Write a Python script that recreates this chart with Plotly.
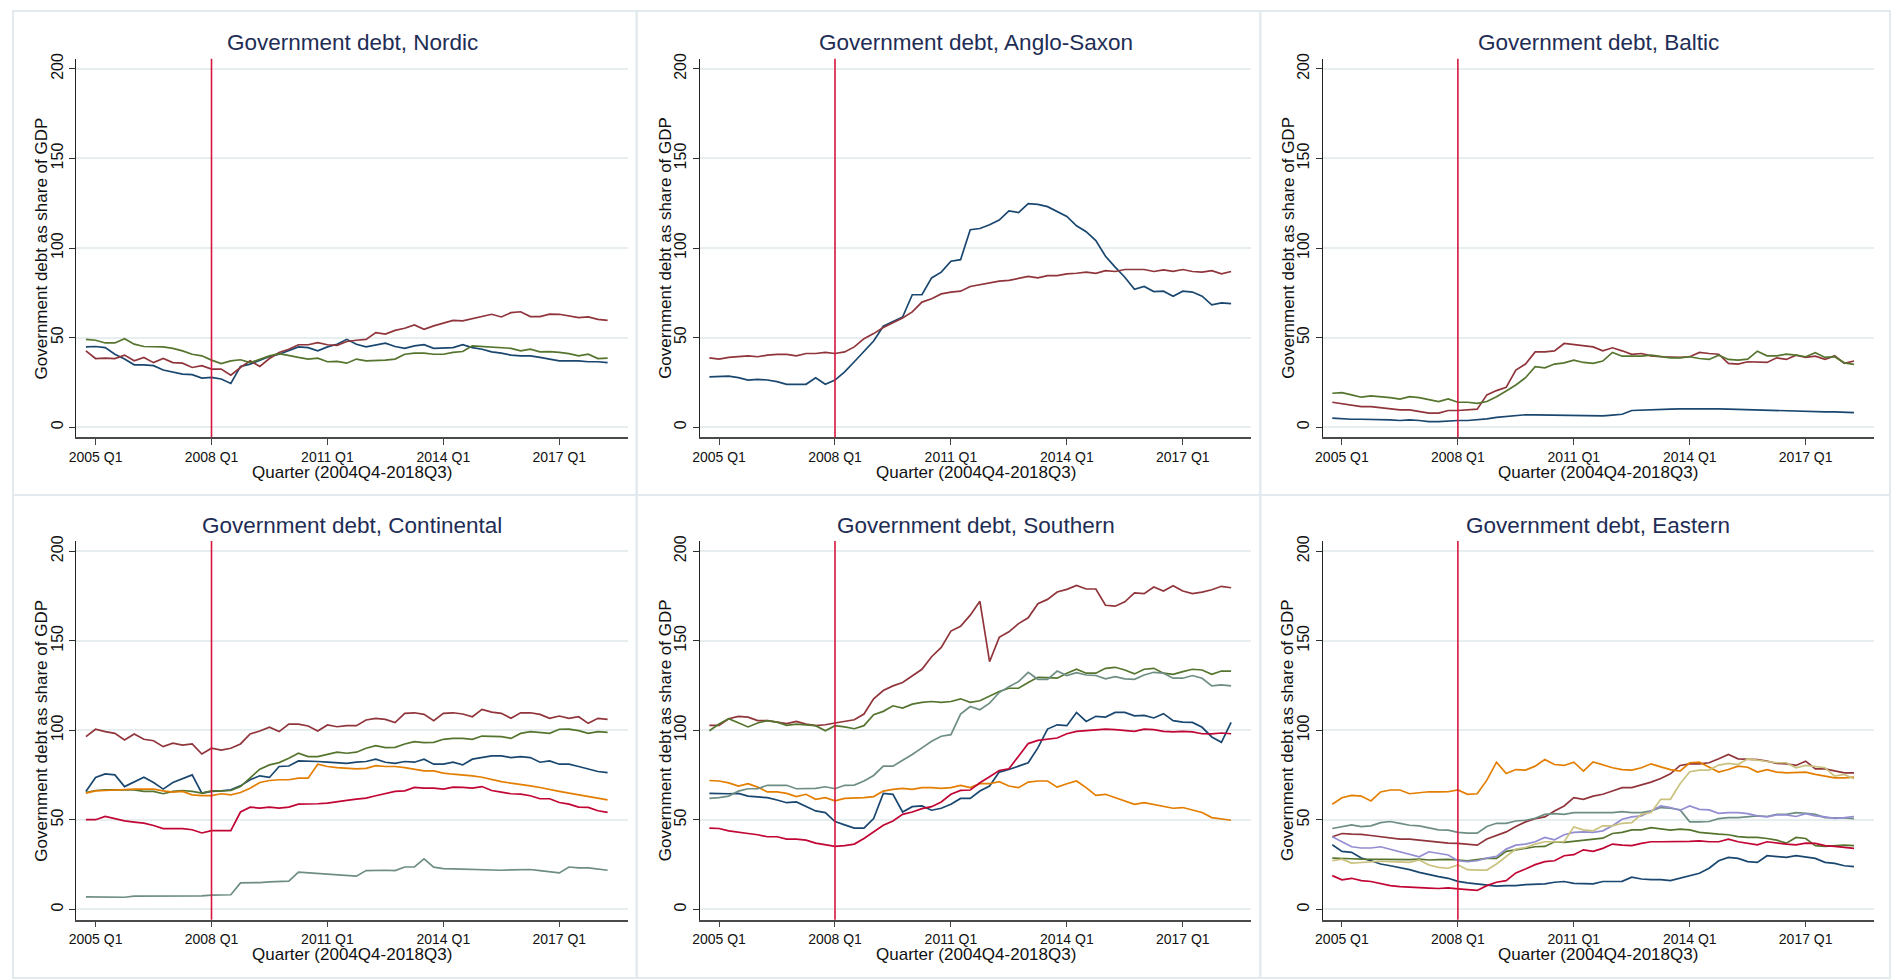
import plotly.graph_objects as go

# ---------------------------------------------------------------------------
# Quarterly government debt (% of GDP), 2004Q4 .. 2018Q2
# x positions are quarter offsets from 2005Q1 (2004Q4 = -1)
# ---------------------------------------------------------------------------
QUARTERS = list(range(-1, 54))
TICK_QUARTERS = [0, 12, 24, 36, 48]
TICK_LABELS = ["2005 Q1", "2008 Q1", "2011 Q1", "2014 Q1", "2017 Q1"]
CRISIS_QUARTER = 12          # 2008 Q1
Y_TICKS = [0, 50, 100, 150, 200]

NAVY = "#1a476f"
MAROON = "#90353b"
GREEN = "#55752f"
ORANGE = "#e37e00"
TEAL = "#6e8e84"
CRANBERRY = "#c10534"
LAVENDER = "#938dd2"
KHAKI = "#cac27e"

# --- Nordic ---------------------------------------------------------------
nordic_navy = [44.8, 45, 44.4, 40.7, 38, 34.8, 34.8, 34.3, 31.9, 30.6,
               29.6, 29.3, 27.4, 27.8, 26.9, 24.4, 33.9, 35.2, 37.4, 39.4,
               40.7, 42.6, 44.8, 44.4, 42.6, 44.8, 46.3, 49, 46.3, 44.8,
               46, 46.9, 45, 44, 45.4, 46, 44, 44.4, 44.4, 46,
               44.4, 43.5, 42, 41.3, 40.2, 39.8, 39.8, 38.9, 38, 37,
               37, 37, 36.5, 36.5, 36]
nordic_maroon = [42.6, 38.3, 38.5, 38.3, 40.2, 37, 38.9, 36, 38.3, 36,
                 35.7, 33.3, 34.3, 32.4, 32.4, 29, 33.3, 37, 33.9, 38.3,
                 41.7, 43.5, 46, 46, 47.2, 46, 45.7, 47.8, 48.5, 49,
                 52.8, 51.9, 54, 55.2, 57, 54.6, 56.5, 58, 59.6, 59.3,
                 60.6, 61.7, 63, 61.5, 63.9, 64.4, 61.7, 61.7, 63.1, 63,
                 62, 61.1, 61.5, 60.2, 59.6]
nordic_green = [49, 48.5, 47, 47, 49.4, 46.3, 45, 44.8, 44.8, 44,
                42.6, 40.7, 39.8, 37.4, 35.5, 37, 37.6, 36, 38, 39.8,
                41, 39.8, 38.9, 38, 38.5, 36.5, 36.7, 35.7, 38, 37,
                37, 37.4, 38, 40.7, 41.3, 41.3, 40.7, 40.7, 41.7, 42.2,
                45.4, 45, 45, 44.4, 44, 42.6, 43.5, 42, 42.2, 41.7,
                41, 39.8, 40.7, 38.3, 38.5]

# --- Anglo-Saxon ----------------------------------------------------------
anglo_navy = [28.1, 28.1, 28.5, 27.6, 26.3, 26.7, 26.3, 25.4, 23.9, 23.9,
              23.9, 27.6, 23.9, 26.3, 30.9, 36.5, 42, 48.1, 56.3, 58.7,
              61.5, 73.9, 73.9, 83.3, 86.5, 92.6, 93.5, 110.2, 110.9, 113,
              115.6, 120.7, 119.8, 124.8, 124.4, 123.1, 120.4, 117.6, 112.4, 109.1,
              104.1, 95.4, 89.3, 83.7, 76.9, 78.5, 75.7, 75.9, 73.1, 75.9,
              75.4, 73.1, 68.3, 69.4, 68.9]
anglo_maroon = [38.7, 38, 38.9, 39.3, 39.8, 39.3, 40.2, 40.6, 40.6, 39.8,
                41.1, 41.1, 41.7, 41.1, 42, 44.8, 49.4, 52.2, 55.6, 58.3,
                60.9, 64.3, 69.8, 71.7, 74.4, 75.4, 75.9, 78.5, 79.4, 80.6,
                81.5, 81.9, 82.8, 84.1, 83.3, 84.6, 84.6, 85.6, 85.9, 86.5,
                85.9, 87.4, 86.9, 88, 88, 88, 86.9, 87.8, 87, 88,
                86.9, 86.5, 87.4, 85.6, 86.9]

# --- Baltic ---------------------------------------------------------------
baltic_navy = [5, 4.6, 4.4, 4.4, 4.4, 4.1, 4.1, 3.7, 4.1, 3.7,
               3.1, 3.1, 3.5, 3.7, 3.7, 4.1, 4.6, 5.4, 5.9, 6.7,
               6.9, 6.9, 6.8, 6.7, 6.6, 6.5, 6.4, 6.2, 6.3, 6.7,
               7.2, 9.3, 9.6, 9.8, 10, 10.1, 10.2, 10.3, 10.3, 10.2,
               10.2, 10.1, 9.9, 9.8, 9.7, 9.6, 9.4, 9.2, 9.1, 8.9,
               8.6, 8.5, 8.5, 8.3, 8.1]
baltic_maroon = [13.9, 13, 12, 11.5, 11.5, 10.9, 10, 9.6, 9.6, 8.7,
                 7.8, 7.8, 9.3, 9.3, 9.6, 10, 18, 20.4, 22.2, 31.9,
                 35.2, 42, 42, 42.6, 46.7, 46.1, 45.7, 44.8, 42.6, 44.3,
                 42.6, 40.6, 41.1, 39.8, 39.3, 38.9, 38.9, 39.3, 41.7, 41.1,
                 40.7, 35.6, 35.2, 36.5, 36.5, 36.1, 38.7, 37.8, 40.2, 38.9,
                 39.6, 37.8, 39.8, 35.6, 36.9]
baltic_green = [18.9, 19.3, 18, 16.7, 17.4, 17, 16.5, 15.6, 17, 16.5,
                15.6, 14.3, 15.7, 13.9, 13.9, 13.3, 14.3, 17, 20.2, 23.5,
                27.6, 33.7, 33.1, 35.2, 35.9, 37.4, 36.1, 35.6, 36.9, 41.7,
                39.6, 39.6, 39.6, 40.2, 39.3, 38.7, 38.7, 39.3, 38.3, 37.8,
                40.2, 37.8, 37.4, 38, 42.4, 39.8, 39.8, 40.7, 40.2, 39.3,
                41.5, 38.9, 39.3, 35.9, 35]

# --- Continental ----------------------------------------------------------
cont_navy = [65.9, 73.7, 75.7, 75.1, 68.6, 71.1, 73.8, 70.9, 67.2, 70.9,
             72.9, 75.1, 64.9, 65.9, 66.2, 66.8, 69, 72.4, 74.6, 73.7,
             79.8, 80.1, 82.9, 82.9, 82.6, 82.2, 82, 81.6, 82.2, 82.6,
             83.9, 82.2, 81.6, 82.6, 82.2, 83.9, 81.1, 81.1, 82.2, 80.7,
             83.9, 84.8, 85.7, 85.7, 84.8, 85.3, 84.8, 82.2, 82.9, 81.1,
             81.1, 79.8, 78.3, 77, 76.4]
cont_maroon = [96.5, 100.6, 99.3, 98.3, 94.6, 98, 95, 94.2, 90.9, 92.8,
               91.8, 92.4, 86.8, 90, 89, 90, 92.4, 98, 99.6, 101.7,
               99.3, 103.5, 103.5, 102.4, 99.6, 103, 102, 102.6, 102.6, 105.8,
               106.7, 106.1, 104.3, 109.5, 109.8, 108.9, 105.4, 109.5, 109.8, 109.1,
               107.6, 111.7, 110.2, 109.5, 106.7, 109.8, 109.8, 108.9, 106.7, 108,
               106.7, 107.6, 103.9, 106.7, 106.1]
cont_green = [65.3, 66.4, 66.8, 66.8, 66.4, 66.8, 65.9, 65.9, 64.6, 65.9,
              66.4, 65.9, 64.9, 66.2, 66.2, 66.4, 68.6, 73.3, 78.3, 80.7,
              82, 84.4, 87.2, 85.3, 85.3, 86.6, 87.8, 87.2, 87.8, 90,
              91.5, 90.4, 90.5, 92.4, 93.7, 93.1, 93.3, 95, 95.5, 95.5,
              95, 96.8, 96.8, 96.5, 95.5, 98.3, 99.3, 98.9, 98.3, 100.6,
              100.7, 99.8, 98.3, 99.3, 98.9]
cont_orange = [64.9, 66.2, 66.4, 66.8, 67.2, 67.2, 67.2, 67.2, 66.2, 65.5,
               65.9, 64, 63.6, 63.6, 64.6, 64, 65.3, 67.7, 70.9, 72,
               72.4, 72.4, 73.3, 73.3, 81.1, 79.8, 79.2, 78.8, 78.5, 78.8,
               80.3, 79.8, 79.8, 79.2, 78.5, 77.4, 77.4, 76.1, 75.5, 75.1,
               74.6, 73.8, 72.4, 71.4, 70.5, 69.9, 69, 68.1, 67.2, 65.9,
               64.9, 64, 63.1, 62.2, 61.2]
cont_teal = [7, 6.9, 6.8, 6.7, 6.8, 7.4, 7.4, 7.4, 7.4, 7.4,
             7.4, 7.4, 7.6, 8, 8.2, 8.2, 14.8, 14.8, 15, 15.4,
             15.4, 15.8, 20.8, 20.4, 19.9, 19.5, 19.5, 19.1, 18.6, 21.7,
             21.9, 21.9, 21.7, 23.7, 23.7, 28.2, 23.6, 22.8, 22.6, 22.4,
             22.4, 22.3, 21.9, 21.9, 22.1, 22.1, 22.3, 21.7, 21, 20.4,
             23.7, 23.2, 23.2, 22.6, 21.9]
cont_cranberry = [50.1, 50.1, 51.9, 50.5, 49.5, 48.8, 48.2, 46.9, 45.1, 45.1,
                  45.1, 44.5, 42.7, 44, 44, 44, 54.4, 57.1, 56.6, 57.1,
                  56.6, 57.1, 58.8, 58.8, 59, 59.4, 60.3, 60.9, 61.6, 62.2,
                  63.5, 64.6, 65.9, 66.2, 68.1, 67.7, 67.7, 67.2, 68.3, 68.1,
                  67.7, 68.6, 66.4, 65.5, 64.6, 64.4, 63.5, 61.8, 61.8, 59.7,
                  58.8, 57.1, 57, 55.1, 54.2]

# --- Southern -------------------------------------------------------------
south_navy = [64.8, 64.6, 64.6, 64.8, 63.3, 62.8, 62.4, 61.1, 59.6, 60,
              57.4, 55, 54.1, 49.1, 47.2, 45.4, 45.4, 50.7, 64.8, 64.3,
              54.4, 57.4, 57.8, 55.4, 56.5, 58.7, 62, 62, 66.1, 68.9,
              76.7, 78.1, 80, 81.9, 90.2, 100.7, 103.1, 102.6, 110, 105,
              107.8, 107.4, 110, 110, 108.1, 108.3, 106.9, 109.3, 105.4, 104.6,
              104.4, 101.7, 96.3, 93.3, 104.4]
south_maroon = [102.8, 102.8, 106.5, 107.8, 107.4, 105.4, 105.4, 104.6, 103.7, 105,
                103.5, 102.6, 103.1, 104.1, 104.8, 105.9, 109.1, 117.6, 122.2, 124.8,
                126.7, 130.4, 134.1, 141.1, 146.3, 155.4, 158.1, 164.3, 172, 138.3,
                151.9, 155, 159.6, 162.8, 170.7, 173.1, 177.2, 178.7, 180.9, 178.9,
                178.9, 169.8, 169.3, 171.7, 176.7, 176.3, 180, 177.8, 180.7, 177.8,
                176.3, 177.2, 178.5, 180.4, 179.6]
south_green = [99.8, 103.5, 106.5, 104.4, 101.9, 104.1, 105.4, 104.6, 102.8, 103.5,
               103.1, 102.6, 99.8, 102.6, 101.9, 100.9, 102.6, 108.7, 110.6, 113.7,
               112.4, 114.6, 115.6, 116.1, 115.6, 116.1, 117.6, 115.6, 116.5, 119.3,
               121.7, 123.5, 123.5, 126.7, 129.6, 129.4, 129.1, 131.9, 134.1, 131.9,
               131.9, 134.6, 135.2, 133.7, 131.5, 134.1, 134.6, 131.9, 131.3, 132.8,
               134.1, 133.7, 131.3, 133.1, 133.1]
south_orange = [72, 71.7, 70.7, 68.9, 70.2, 68.3, 65.6, 65.6, 64.8, 63,
                64.3, 61.5, 62.4, 60.6, 62, 62, 62.4, 63, 66.1, 67,
                67.6, 67, 68, 68, 67.6, 68, 69.3, 68, 70.2, 70.2,
                71.3, 68.9, 68, 71.1, 71.7, 71.7, 68.3, 70.2, 71.7, 68,
                63.7, 64.3, 62.4, 60.9, 58.7, 59.6, 58.7, 57.8, 56.5, 56.9,
                55.6, 54.1, 51.3, 50.7, 49.8]
south_teal = [62, 62.4, 63.3, 66.1, 67.4, 67.4, 69.3, 69.3, 69.3, 67.4,
              67.4, 67.6, 68.5, 67.4, 69.3, 69.4, 71.7, 74.8, 80, 80,
              83.3, 86.5, 90.2, 93.9, 96.7, 97.6, 109.1, 113.3, 111.5, 115.2,
              121.1, 124.4, 127.2, 132.4, 128.5, 128.5, 133.1, 130.6, 132.2, 130.9,
              130.6, 128.7, 130, 128.7, 128.5, 130.9, 132.4, 131.9, 129.1, 129.1,
              130.6, 129.1, 124.8, 125.4, 124.8]
south_cranberry = [45.4, 45.2, 43.9, 43, 42.4, 41.7, 40.6, 40.6, 39.3, 39.3,
                   38.7, 37, 35.9, 35.2, 35.6, 36.5, 39.6, 43.3, 47, 49.4,
                   53.1, 54.4, 56.3, 57.4, 60, 64.3, 66.5, 66.7, 70.7, 74.1,
                   77.6, 78.5, 85.9, 92.6, 94.4, 95.2, 95.7, 98.1, 99.4, 99.8,
                   100.4, 100.7, 100.4, 100, 99.4, 100.7, 100.4, 99.4, 99.1, 99.4,
                   99.1, 98.1, 98, 98.5, 98.1]

# --- Eastern --------------------------------------------------------------
east_navy = [36.1, 32.4, 31.9, 28.7, 27.2, 25.4, 24.4, 23.5, 22.2, 20.7,
             19.3, 18.3, 17.4, 15.7, 14.8, 14.3, 13.7, 13, 13.3, 13.3,
             13.9, 14.1, 14.3, 15.2, 15.6, 14.6, 14.6, 14.3, 15.6, 15.6,
             15.7, 18, 17, 16.7, 16.7, 16.1, 17.6, 18.9, 20.2, 23,
             27.2, 29.1, 28.5, 26.7, 26.3, 30, 29.6, 29.1, 30, 29.1,
             28.5, 26.3, 25.7, 24.4, 23.9]
east_maroon = [40.6, 42.4, 42, 41.9, 41.3, 40.6, 40.2, 39.3, 39.3, 38.7,
               37.8, 37.4, 37, 36.9, 36.5, 35.9, 39.3, 41.5, 43.3, 46.3,
               48.9, 50.7, 51.7, 55, 57.8, 62.4, 61.5, 63.3, 64.3, 66.1,
               68, 68, 69.4, 71.1, 73.1, 75.7, 80.4, 81.3, 81.3, 81.9,
               84.1, 86.5, 84.1, 84.1, 83.7, 82.8, 81.5, 81.3, 80.4, 82.8,
               78.5, 78.5, 77.6, 76.3, 76.3]
east_green = [28.7, 28.7, 28.3, 28.1, 28, 28.2, 28.1, 28, 27.8, 28.1,
              27.6, 27.8, 28, 27.6, 27.2, 27.8, 28.5, 28.5, 32.4, 33.3,
              34.3, 35, 35.2, 37.8, 37.4, 38, 38.3, 39.3, 39.8, 42.4,
              43, 44.4, 44.4, 45.7, 45.2, 44.3, 44.8, 44.4, 43, 42.4,
              42, 41.7, 40.7, 40.2, 40.2, 39.6, 38.7, 37, 40.2, 39.6,
              35.6, 35.2, 35.6, 35.9, 35.6]
east_orange = [58.7, 62.4, 63.7, 63.3, 60.6, 65.6, 66.7, 66.7, 64.6, 65.2,
               65.7, 65.6, 65.7, 66.7, 64.3, 64.6, 72.2, 82.2, 75.9, 78.1,
               77.8, 80, 83.7, 80.9, 80.4, 82.2, 77.2, 82.4, 80.6, 79.1,
               78.1, 77.8, 79.1, 81.3, 79.6, 78.1, 77.2, 81.9, 82.2, 79.6,
               76.7, 78.1, 80, 79.4, 76.7, 78.1, 76.7, 76.3, 76.3, 76.7,
               75.4, 74.4, 73.5, 73.5, 73.9]
east_teal = [45.2, 46.3, 47.2, 46.3, 46.7, 48.5, 49.1, 48.1, 47, 46.7,
             45.4, 44.4, 44.3, 43, 42.6, 42.6, 46.3, 48.1, 48.1, 49.4,
             49.8, 50.9, 53.1, 53.5, 53.1, 54.1, 54.1, 54.1, 54.1, 54.1,
             54.6, 54.1, 54.1, 55, 56.9, 56.5, 55.6, 48.9, 48.9, 49.1,
             50.7, 51.3, 51.3, 51.9, 52.2, 51.9, 53.1, 53.1, 54.1, 53.7,
             53.1, 51.3, 51.3, 51.1, 50.7]
east_cranberry = [18.9, 16.5, 17.4, 16.1, 15.6, 14.3, 13.3, 12.8, 12.4, 12.4,
                  11.9, 11.7, 12, 11.5, 10.9, 10.6, 13.3, 15.2, 16.1, 20.4,
                  22.6, 25, 26.7, 27.2, 30, 30.6, 33.3, 32.4, 34.1, 36.5,
                  35.9, 35.6, 36.9, 37.8, 37.8, 37.8, 37.8, 38, 38.3, 37.8,
                  37.8, 39.3, 37.8, 37, 36.1, 37.8, 37, 36.5, 36.1, 37,
                  36.9, 35.6, 35.2, 34.6, 34.1]
east_lavender = [40.6, 37.8, 35, 34.3, 34.3, 35, 33.7, 32.4, 30.9, 29.4,
                 32.2, 31.3, 30.4, 27.2, 26.7, 27.2, 28.7, 29.6, 33.7, 35.9,
                 36.5, 37.8, 40.2, 38.9, 41.7, 43, 43.3, 43, 43.9, 46.7,
                 50.4, 51.7, 52.2, 55, 57.8, 56.9, 55.4, 57.8, 55.9, 55.6,
                 53.7, 54.1, 54.1, 53.5, 52.2, 51.7, 52.8, 52.8, 51.9, 53.5,
                 52.2, 51.7, 50.9, 51.3, 51.9]
east_khaki = [27.2, 28.1, 25.9, 26.3, 26.7, 26.9, 26.7, 26.3, 26.3, 27.6,
              24.8, 23.5, 23, 24.8, 22.2, 22, 22, 25.4, 29.4, 33.7,
              34.6, 36.5, 37.8, 37.8, 37.8, 46.1, 44.4, 43.9, 46.7, 46.7,
              48.1, 48.5, 53.1, 54.1, 61.5, 61.5, 70.2, 76.9, 77.8, 77.8,
              80.6, 81.5, 80.9, 84.1, 83.3, 82.8, 81.9, 81.9, 79.1, 80.4,
              79.6, 79.1, 74.4, 75.4, 73]

PANELS = [
    ("Government debt, Nordic",
     [(nordic_navy, NAVY), (nordic_maroon, MAROON), (nordic_green, GREEN)]),
    ("Government debt, Anglo-Saxon",
     [(anglo_navy, NAVY), (anglo_maroon, MAROON)]),
    ("Government debt, Baltic",
     [(baltic_navy, NAVY), (baltic_maroon, MAROON), (baltic_green, GREEN)]),
    ("Government debt, Continental",
     [(cont_navy, NAVY), (cont_maroon, MAROON), (cont_green, GREEN),
      (cont_orange, ORANGE), (cont_teal, TEAL), (cont_cranberry, CRANBERRY)]),
    ("Government debt, Southern",
     [(south_navy, NAVY), (south_maroon, MAROON), (south_green, GREEN),
      (south_orange, ORANGE), (south_teal, TEAL), (south_cranberry, CRANBERRY)]),
    ("Government debt, Eastern",
     [(east_navy, NAVY), (east_maroon, MAROON), (east_green, GREEN),
      (east_orange, ORANGE), (east_teal, TEAL), (east_cranberry, CRANBERRY),
      (east_lavender, LAVENDER), (east_khaki, KHAKI)]),
]

for _, series in PANELS:
    for values, _c in series:
        assert len(values) == len(QUARTERS), len(values)

# ---------------------------------------------------------------------------
# Page geometry (pixels)
# ---------------------------------------------------------------------------
W, H = 1894, 979
COL_LEFT = [69.5, 695.3, 1320.5]
PLOT_W = 553.7
ROW_TOP = [53.0, 538.3]
PLOT_H = 381.0
FRAME_X = [6, 632, 1258, 1890]
FRAME_Y = [5, 492, 978]

FONT = "Liberation Sans, Arial, Helvetica, sans-serif"
TITLE_COLOR = "#1e2d55"
TEXT_COLOR = "#111111"
GRID_COLOR = "#e6eef0"
FRAME_COLOR = "#e2eaed"
VLINE_COLOR = "#d8153f"


def px_x(x):
    return x / W


def px_y(y):
    return 1 - y / H


fig = go.Figure()
annotations = []
shapes = []
layout_axes = {}

for i, (title, series) in enumerate(PANELS):
    row, col = divmod(i, 3)
    left = COL_LEFT[col]
    right = left + PLOT_W
    top = ROW_TOP[row]
    bottom = top + PLOT_H
    n = i + 1
    xname = "x" if n == 1 else f"x{n}"
    yname = "y" if n == 1 else f"y{n}"

    for values, color in series:
        fig.add_trace(go.Scatter(
            x=QUARTERS, y=values, mode="lines",
            line=dict(color=color, width=1.7),
            xaxis=xname, yaxis=yname, showlegend=False,
            hoverinfo="x+y",
        ))

    layout_axes[f"xaxis{'' if n == 1 else n}"] = dict(
        domain=[px_x(left), px_x(right)],
        anchor=yname,
        range=[-2.0, 55.1],
        tickmode="array", tickvals=TICK_QUARTERS, ticktext=TICK_LABELS,
        ticks="outside", ticklen=6, tickwidth=1.2, tickcolor="#444444",
        showline=True, linecolor="#4a4a4a", linewidth=1.6,
        showgrid=False, zeroline=False,
        tickfont=dict(family=FONT, size=14, color=TEXT_COLOR),
    )
    layout_axes[f"yaxis{'' if n == 1 else n}"] = dict(
        domain=[px_y(bottom), px_y(top)],
        anchor=xname,
        range=[-5.7, 205.7],
        tickmode="array", tickvals=Y_TICKS,
        tickangle=-90,
        ticks="outside", ticklen=6, tickwidth=1.2, tickcolor="#333333",
        showline=True, linecolor="#222222", linewidth=1.2,
        showgrid=True, gridcolor=GRID_COLOR, gridwidth=1.5,
        zeroline=False,
        tickfont=dict(family=FONT, size=16, color=TEXT_COLOR),
    )

    # 2008 Q1 marker
    shapes.append(dict(
        type="line", xref=xname, yref=f"{yname} domain",
        x0=CRISIS_QUARTER, x1=CRISIS_QUARTER, y0=0, y1=1,
        line=dict(color=VLINE_COLOR, width=1.6), layer="above",
    ))

    # panel frame
    shapes.append(dict(
        type="rect", xref="paper", yref="paper",
        x0=px_x(FRAME_X[col]), x1=px_x(FRAME_X[col + 1]),
        y0=px_y(FRAME_Y[row + 1]), y1=px_y(FRAME_Y[row]),
        line=dict(color=FRAME_COLOR, width=2), layer="below",
    ))

    cx = (left + right) / 2
    annotations.append(dict(
        text=title, xref="paper", yref="paper",
        x=px_x(cx), y=px_y(top - 16), xanchor="center", yanchor="middle",
        showarrow=False, font=dict(family=FONT, size=22.5, color=TITLE_COLOR),
    ))
    annotations.append(dict(
        text="Government debt as share of GDP", xref="paper", yref="paper",
        x=px_x(left - 35), y=px_y((top + bottom) / 2),
        xanchor="center", yanchor="middle", textangle=-90,
        showarrow=False, font=dict(family=FONT, size=17, color=TEXT_COLOR),
    ))
    annotations.append(dict(
        text="Quarter (2004Q4-2018Q3)", xref="paper", yref="paper",
        x=px_x(cx), y=px_y(bottom + 35), xanchor="center", yanchor="middle",
        showarrow=False, font=dict(family=FONT, size=17, color=TEXT_COLOR),
    ))

fig.update_layout(
    width=W, height=H,
    margin=dict(l=0, r=0, t=0, b=0),
    paper_bgcolor="white", plot_bgcolor="white",
    annotations=annotations, shapes=shapes,
    showlegend=False,
    **layout_axes,
)

# the page's default body margin would offset the fixed-size figure
fig.write_html(
    "out.html",
    post_script="document.body.style.margin='0';document.body.style.padding='0';",
)
